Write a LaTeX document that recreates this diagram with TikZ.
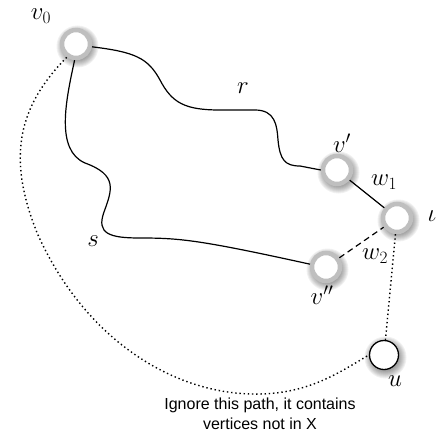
\documentclass[tikz,border=0pt]{standalone}
\usepackage{fontspec}
\setsansfont{Liberation Sans}

\begin{document}
\begin{tikzpicture}[x=1pt, y=-1pt,
  vtx/.style={circle, draw=black!25, line width=4.5pt, fill=white, minimum size=28pt, inner sep=0pt},
  vtxu/.style={circle, draw=black, line width=1.3pt, fill=white, minimum size=29pt, inner sep=0pt},
  lbl/.style={font=\fontsize{23}{27}\selectfont},
  path/.style={line width=1.2pt},
  dots/.style={line width=1.4pt, dash pattern=on 1.4pt off 2.8pt}]
\useasboundingbox (0,0) rectangle (438,436);
% soft shadows behind the vertices
\foreach \x/\y in {76/44, 337/170, 397/218, 326/267, 384/355}
  \foreach \r in {12,13,...,21}
    \fill[black, opacity=0.055] (\x+1.5,\y+2.5) circle (\r pt);
\node[vtx] (v0) at (76,44) {};
\node[vtx] (vp) at (337,170) {};
\node[vtx] (vi) at (397,218) {};
\node[vtx] (vpp) at (326,267) {};
\node[vtxu] (u) at (384,355) {};
\node[lbl] (lv0) at (41,16) {$v_0$};
\node[lbl] (lvp) at (342,143) {$v'$};
\node[lbl] (lvi) at (432,216) {$\iota$};
\node[lbl] (lvpp) at (322,295) {$v''$};
\node[lbl] (lu) at (395,381) {$u$};
\node[lbl] (lr) at (243,88) {$r$};
\node[lbl] (ls) at (93,241) {$s$};
\node[lbl] (lw1) at (384,182) {$w_1$};
\node[lbl] (lw2) at (375,256) {$w_2$};
\node[align=center, font=\sffamily\fontsize{16}{19.5}\selectfont] (note) at (260,414) {Ignore this path, it contains\\vertices not in X};
% paths r and s
\draw[path] (v0.-10) .. controls (135,52) and (148,58) .. (160,80) .. controls (172,103) and (185,110) .. (220,110) -- (255,110) .. controls (275,110) and (277,125) .. (278,140) .. controls (280,160) and (285,166) .. (300,166) -- (vp.west);
\draw[path] (v0.-95) .. controls (66,100) and (55,150) .. (85,163) .. controls (118,175) and (112,190) .. (104,212) .. controls (96,234) and (110,238) .. (140,238) .. controls (180,238) and (200,240) .. (vpp.170);
% edges at iota
\draw[path] (vp) -- (vi);
\draw[path, dash pattern=on 6pt off 4pt] (vpp) -- (vi);
\draw[dots] (vi) -- (u);
\draw[dots] (v0.235) .. controls (20,105) and (5,155) .. (38,235) .. controls (88,345) and (180,396) .. (260,394) .. controls (310,393) and (340,372) .. (u.west);
\end{tikzpicture}
\end{document}
